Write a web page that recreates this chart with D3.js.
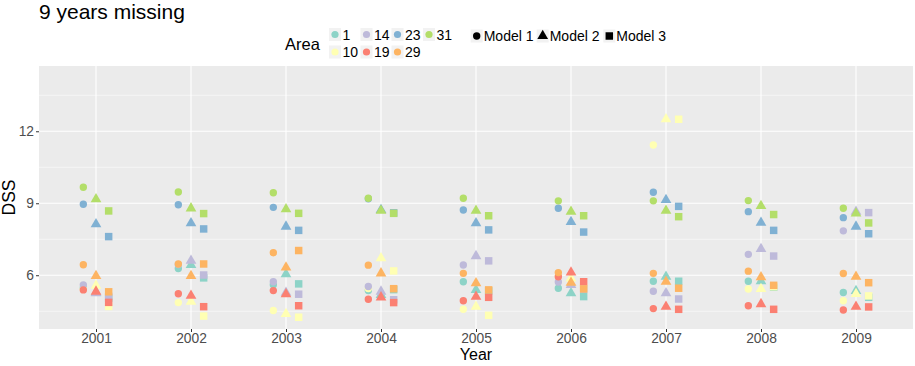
<!DOCTYPE html>
<html><head><meta charset="utf-8">
<script src="https://cdn.jsdelivr.net/npm/d3@7"></script>
<style>
body{margin:0;background:#fff;}
text{font-family:"Liberation Sans",Arial,Helvetica,sans-serif;}
</style></head>
<body><svg id="chart" width="915" height="366"></svg>
<script>
// ---- data ----
const years = ["2001","2002","2003","2004","2005","2006","2007","2008","2009"];
const areas = ["1","10","14","19","23","29","31"];
const models = ["Model 1","Model 2","Model 3"];
const areaColors = ["#8DD3C7","#FFFFB3","#BEBADA","#FB8072","#80B1D3","#FDB462","#B3DE69"];
const yTicks = [6, 9, 12];
const yMinor = [4.5, 7.5, 10.5, 13.5];

// Area 1
const a1_m1 = [5.47, 6.28, 5.60, 5.36, 5.73, 5.46, 5.75, 5.75, 5.28];
const a1_m2 = [5.28, 6.43, 6.05, 5.18, 5.39, 5.25, 5.94, 5.75, 5.35];
const a1_m3 = [5.05, 5.89, 5.64, 5.40, 5.35, 5.11, 5.75, 5.50, 5.08];
// Area 10
const a10_m1 = [5.42, 4.86, 4.53, 5.45, 4.58, 5.95, 11.43, 5.43, 4.94];
const a10_m2 = [5.57, 4.90, 4.39, 6.71, 4.69, 5.87, 12.50, 5.43, 5.22];
const a10_m3 = [4.70, 4.30, 4.25, 6.18, 4.33, 5.50, 12.50, 5.52, 5.14];
// Area 14
const a14_m1 = [5.60, 6.45, 5.73, 5.53, 6.43, 5.72, 5.33, 6.87, 7.85];
const a14_m2 = [5.25, 6.61, 5.27, 5.32, 6.80, 5.60, 5.25, 7.10, 8.65];
const a14_m3 = [5.12, 6.01, 5.21, 4.98, 6.60, 5.42, 5.01, 6.80, 8.61];
// Area 19
const a19_m1 = [5.39, 5.23, 5.36, 5.00, 4.94, 5.94, 4.61, 4.73, 4.55];
const a19_m2 = [5.32, 5.15, 5.21, 5.08, 5.11, 6.12, 4.69, 4.80, 4.69];
const a19_m3 = [4.87, 4.69, 4.73, 4.86, 5.08, 5.73, 4.58, 4.58, 4.68];
// Area 23
const a23_m1 = [8.96, 8.94, 8.83, 9.19, 8.72, 8.79, 9.46, 8.65, 8.40];
const a23_m2 = [8.13, 8.17, 8.03, 8.72, 8.17, 8.22, 9.14, 8.19, 8.03];
const a23_m3 = [7.61, 7.93, 7.87, 8.60, 7.89, 7.80, 8.87, 7.87, 7.73];
// Area 29
const a29_m1 = [6.44, 6.47, 6.94, 6.42, 6.08, 6.11, 6.08, 6.17, 6.07];
const a29_m2 = [5.97, 5.97, 6.33, 6.08, 5.67, 5.69, 5.73, 5.92, 5.94];
const a29_m3 = [5.31, 6.47, 7.03, 5.44, 5.39, 5.43, 5.46, 5.58, 5.69];
// Area 31
const a31_m1 = [9.67, 9.47, 9.44, 9.21, 9.21, 9.10, 9.10, 9.11, 8.79];
const a31_m2 = [9.17, 8.79, 8.75, 8.69, 8.69, 8.65, 8.69, 8.89, 8.58];
const a31_m3 = [8.68, 8.57, 8.58, 8.58, 8.48, 8.48, 8.44, 8.53, 8.18];

const seriesByArea = [
  [a1_m1, a1_m2, a1_m3],
  [a10_m1, a10_m2, a10_m3],
  [a14_m1, a14_m2, a14_m3],
  [a19_m1, a19_m2, a19_m3],
  [a23_m1, a23_m2, a23_m3],
  [a29_m1, a29_m2, a29_m3],
  [a31_m1, a31_m2, a31_m3]
];

// build rows in area order (later areas drawn on top)
const rows = [];
areas.forEach((a, ai) => {
  models.forEach((m, mi) => {
    years.forEach((yr, yi) => {
      rows.push({area: a, ai, model: m, mi, year: yr, value: seriesByArea[ai][mi][yi]});
    });
  });
});

// ---- layout ----
const svg = d3.select("#chart");
const P = {left: 39, right: 913, top: 66, bottom: 329};

const x = d3.scalePoint().domain(years).range([P.left, P.right]).padding(0.6);
const y = d3.scaleLinear().domain([3.76, 14.72]).range([P.bottom, P.top]);
const color = d3.scaleOrdinal().domain(areas).range(areaColors);
const dodge = x.step() * 0.4 / 3;

const symbolFor = [d3.symbolCircle, d3.symbolTriangle, d3.symbolSquare];
const symbolSize = [43, 50, 56];

// title
svg.append("text").attr("x", 39).attr("y", 19).attr("font-size", 21).attr("fill", "#000").text("9 years missing");

// panel
svg.append("rect").attr("x", P.left).attr("y", P.top).attr("width", P.right - P.left).attr("height", P.bottom - P.top).attr("fill", "#EBEBEB");

const grid = svg.append("g");
yMinor.forEach(v => grid.append("line").attr("x1", P.left).attr("x2", P.right).attr("y1", y(v)).attr("y2", y(v)).attr("stroke", "#fff").attr("stroke-width", 0.55));
yTicks.forEach(v => grid.append("line").attr("x1", P.left).attr("x2", P.right).attr("y1", y(v)).attr("y2", y(v)).attr("stroke", "#fff").attr("stroke-width", 1.1));
years.forEach(v => grid.append("line").attr("y1", P.top).attr("y2", P.bottom).attr("x1", x(v)).attr("x2", x(v)).attr("stroke", "#fff").attr("stroke-width", 1.1));

// axes
const yAxis = svg.append("g").attr("transform", `translate(${P.left},0)`)
  .call(d3.axisLeft(y).tickValues(yTicks).tickSize(3).tickPadding(2).tickFormat(d3.format("d")));
const xAxis = svg.append("g").attr("transform", `translate(0,${P.bottom})`)
  .call(d3.axisBottom(x).tickSize(3).tickPadding(1));
[yAxis, xAxis].forEach(g => {
  g.select(".domain").remove();
  g.selectAll(".tick line").attr("stroke", "#333").attr("stroke-width", 1);
  g.selectAll(".tick text").attr("fill", "#4D4D4D").attr("font-size", 13.8).attr("font-family", "Liberation Sans, Arial, sans-serif");
});

svg.append("text").attr("x", (P.left + P.right) / 2).attr("y", 359.5).attr("text-anchor", "middle").attr("font-size", 16).text("Year");
svg.append("text").attr("transform", `translate(15,${(P.top + P.bottom) / 2}) rotate(-90)`).attr("text-anchor", "middle").attr("font-size", 17.5).text("DSS");

// points
svg.append("g").selectAll("path").data(rows).join("path")
  .attr("transform", d => `translate(${x(d.year) + (d.mi - 1) * dodge},${y(d.value)})`)
  .attr("d", d => d3.symbol().type(symbolFor[d.mi]).size(symbolSize[d.mi])())
  .attr("fill", d => color(d.area));

// ---- legend ----
const lg = svg.append("g");
lg.append("text").attr("x", 285).attr("y", 49.5).attr("font-size", 16.5).text("Area");
const keyCols = [335, 366.5, 397.5, 429];
const keyRows = [34.5, 52];
areas.forEach((a, i) => {
  const cx = keyCols[Math.floor(i / 2)], cy = keyRows[i % 2];
  lg.append("rect").attr("x", cx - 6).attr("y", cy - 6.5).attr("width", 12).attr("height", 13).attr("fill", "#F2F2F2");
  lg.append("circle").attr("cx", cx).attr("cy", cy).attr("r", 3.6).attr("fill", color(a));
  lg.append("text").attr("x", cx + 7.5).attr("y", cy + 5).attr("font-size", 14).text(a);
});
const modelCols = [476.7, 542.7, 609.3];
models.forEach((m, i) => {
  const cx = modelCols[i], cy = 36;
  lg.append("rect").attr("x", cx - 6).attr("y", cy - 6.5).attr("width", 12).attr("height", 13).attr("fill", "#F2F2F2");
  lg.append("path").attr("transform", `translate(${cx},${cy})`).attr("d", d3.symbol().type(symbolFor[i]).size(symbolSize[i])()).attr("fill", "#000");
  lg.append("text").attr("x", cx + 7).attr("y", cy + 5).attr("font-size", 14).text(m);
});
</script>
</body></html>
